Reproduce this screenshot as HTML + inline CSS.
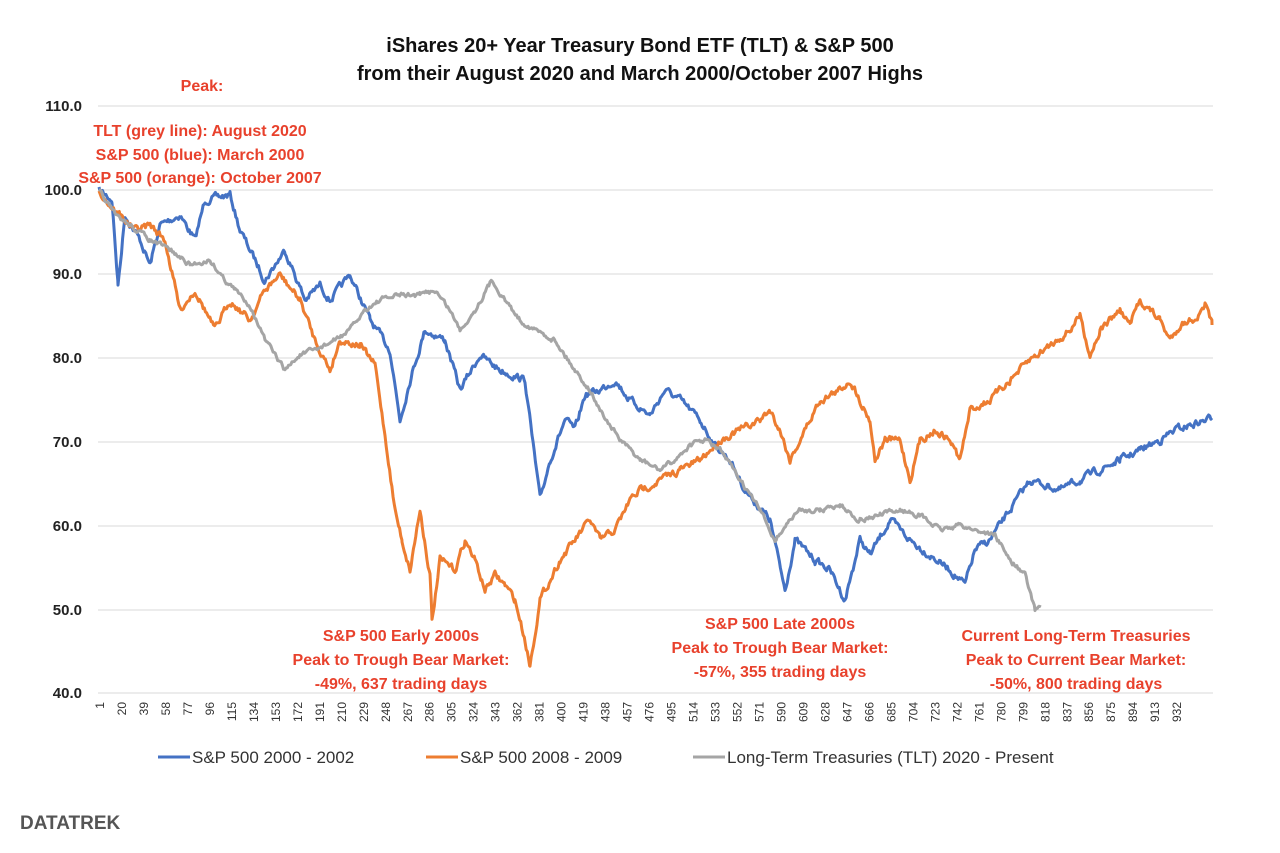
<!DOCTYPE html>
<html><head><meta charset="utf-8"><style>
body{margin:0;background:#fff;width:1280px;height:853px;overflow:hidden;font-family:"Liberation Sans",sans-serif}
svg{position:absolute;left:0;top:0}
</style></head><body>
<svg width="1280" height="853" xmlns="http://www.w3.org/2000/svg" font-family="Liberation Sans, sans-serif">
<g stroke="#d9d9d9" stroke-width="1">
<line x1="98" x2="1213" y1="106" y2="106"/><line x1="98" x2="1213" y1="190" y2="190"/>
<line x1="98" x2="1213" y1="274" y2="274"/><line x1="98" x2="1213" y1="358" y2="358"/>
<line x1="98" x2="1213" y1="442" y2="442"/><line x1="98" x2="1213" y1="526" y2="526"/>
<line x1="98" x2="1213" y1="610" y2="610"/><line x1="98" x2="1213" y1="693" y2="693"/>
</g>
<g font-size="15" font-weight="bold" fill="#222" text-anchor="end">
<text x="82" y="111">110.0</text><text x="82" y="195">100.0</text><text x="82" y="279">90.0</text>
<text x="82" y="363">80.0</text><text x="82" y="447">70.0</text><text x="82" y="531">60.0</text>
<text x="82" y="615">50.0</text><text x="82" y="698">40.0</text>
</g>
<g id="xt" font-size="12" fill="#333" text-anchor="end"></g>
<text x="640" y="52" font-size="20" font-weight="bold" text-anchor="middle" fill="#111">iShares 20+ Year Treasury Bond ETF (TLT) &amp; S&amp;P 500</text>
<text x="640" y="80" font-size="20" font-weight="bold" text-anchor="middle" fill="#111">from their August 2020 and March 2000/October 2007 Highs</text>
<g id="series" fill="none" stroke-width="3" stroke-linejoin="round"></g>
<g font-size="16" font-weight="bold" fill="#e8412c" text-anchor="middle">
<text x="202" y="91">Peak:</text>
<text x="200" y="136">TLT (grey line): August 2020</text>
<text x="200" y="160">S&amp;P 500 (blue): March 2000</text>
<text x="200" y="183">S&amp;P 500 (orange): October 2007</text>
<text x="401" y="641">S&amp;P 500 Early 2000s</text>
<text x="401" y="665">Peak to Trough Bear Market:</text>
<text x="401" y="689">-49%, 637 trading days</text>
<text x="780" y="629">S&amp;P 500 Late 2000s</text>
<text x="780" y="653">Peak to Trough Bear Market:</text>
<text x="780" y="677">-57%, 355 trading days</text>
<text x="1076" y="641">Current Long-Term Treasuries</text>
<text x="1076" y="665">Peak to Current Bear Market:</text>
<text x="1076" y="689">-50%, 800 trading days</text>
</g>
<g font-size="17" fill="#333">
<line x1="158" x2="190" y1="757" y2="757" stroke="#4472c4" stroke-width="3"/><text x="192" y="763">S&amp;P 500 2000 - 2002</text>
<line x1="426" x2="458" y1="757" y2="757" stroke="#ed7d31" stroke-width="3"/><text x="460" y="763">S&amp;P 500 2008 - 2009</text>
<line x1="693" x2="725" y1="757" y2="757" stroke="#a5a5a5" stroke-width="3"/><text x="727" y="763">Long-Term Treasuries (TLT) 2020 - Present</text>
</g>
<text x="20" y="829" font-size="19" font-weight="bold" fill="#555">DATATREK</text>
</svg>
<script>
var NS="http://www.w3.org/2000/svg";
var xt=document.getElementById("xt");
for(var i=1;i<=932;i+=19){var x=100+(i-1)*1.157;var t=document.createElementNS(NS,"text");
t.setAttribute("transform","translate("+(x+4)+",702) rotate(-90)");t.textContent=i;xt.appendChild(t);}
var seed=7;function rnd(){seed=(seed*16807)%2147483647;return seed/2147483647-0.5;}
function mk(pts,col,amp){var d="",n=0;
for(var k=0;k<pts.length-1;k++){var a=pts[k],b=pts[k+1];
for(var x=a[0];x<b[0];x+=1.157){var f=(x-a[0])/(b[0]-a[0]);var y=a[1]+(b[1]-a[1])*f;
n=n*0.6+rnd()*amp;var yy=y+n;d+=(d?"L":"M")+x.toFixed(1)+","+yy.toFixed(1);}}
var l=pts[pts.length-1];d+="L"+l[0]+","+l[1];
var p=document.createElementNS(NS,"path");p.setAttribute("d",d);p.setAttribute("stroke",col);
document.getElementById("series").appendChild(p);}
var blue=[[99,190],[112,200],[118,285],[125,215],[140,240],[150,265],[160,225],[180,215],[195,240],[205,200],[230,195],[240,230],[255,260],[265,280],[285,250],[295,275],[305,300],[320,285],[330,300],[350,275],[370,320],[390,350],[400,420],[410,380],[425,330],[445,340],[460,390],[480,355],[500,370],[525,380],[540,500],[550,460],[565,420],[575,430],[585,395],[600,390],[615,380],[630,400],[650,415],[665,390],[680,400],[700,420],[715,445],[730,460],[745,490],[770,520],[785,590],[795,540],[815,560],[830,570],[845,600],[860,540],[870,555],[890,520],[910,540],[930,555],[950,570],[965,585],[975,550],[990,540],[1010,510],[1030,480],[1060,490],[1080,480],[1100,470],[1120,460],[1140,450],[1160,440],[1175,430],[1212,418]];
var orange=[[99,190],[110,205],[120,215],[135,230],[150,225],[165,240],[180,310],[195,290],[215,330],[230,300],[250,320],[265,290],[280,275],[300,300],[315,340],[330,370],[340,340],[360,345],[375,365],[385,435],[395,510],[402,540],[410,570],[420,510],[430,575],[432,622],[440,560],[455,570],[465,540],[475,560],[485,590],[495,575],[505,585],[515,600],[525,640],[530,665],[540,600],[550,580],[560,560],[575,540],[590,520],[600,540],[615,530],[630,500],[640,490],[660,480],[680,470],[700,460],[720,440],[740,430],[760,420],[770,410],[780,430],[790,460],[800,440],[820,400],[840,390],[850,380],[860,400],[870,420],[875,460],[885,440],[900,440],[910,480],[920,440],[935,430],[950,440],[960,460],[970,410],[990,400],[1010,380],[1020,370],[1030,360],[1050,345],[1070,330],[1080,315],[1090,355],[1100,330],[1120,310],[1130,325],[1140,300],[1160,320],[1170,340],[1180,325],[1200,315],[1205,305],[1212,325]];
var grey=[[99,190],[115,215],[130,225],[150,240],[170,250],[190,265],[210,260],[225,280],[235,290],[250,305],[265,340],[285,370],[300,355],[315,350],[335,340],[350,330],[365,310],[380,300],[400,295],[420,295],[435,290],[450,310],[460,330],[475,310],[492,280],[505,300],[520,320],[535,330],[555,340],[565,355],[575,370],[590,390],[600,410],[620,440],[640,460],[660,470],[675,460],[690,445],[705,440],[720,450],[740,480],[760,510],[775,540],[790,520],[800,510],[820,510],[840,505],[860,520],[880,515],[900,510],[920,515],[940,530],[960,525],[975,530],[995,535],[1010,560],[1025,575],[1035,610],[1040,605]];
mk(blue,"#4472c4",6);mk(orange,"#ed7d31",6);mk(grey,"#a5a5a5",4);
</script>
</body></html>
